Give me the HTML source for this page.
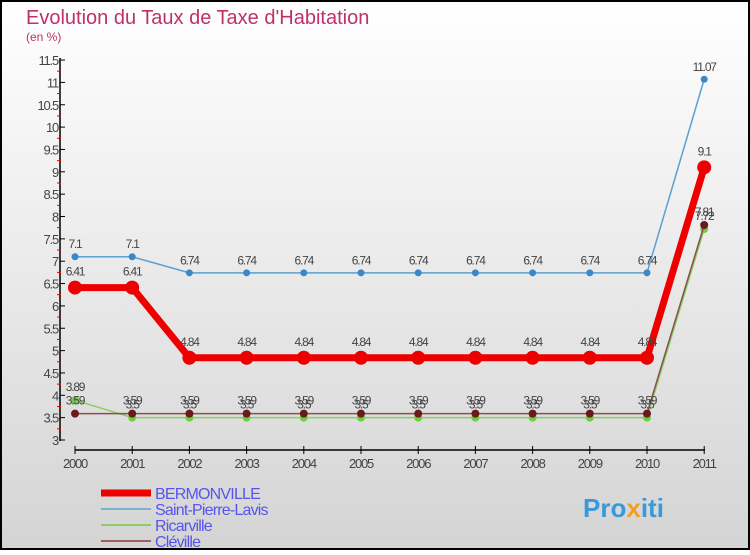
<!DOCTYPE html>
<html><head><meta charset="utf-8"><style>
body{margin:0;width:750px;height:550px;overflow:hidden;font-family:"Liberation Sans",sans-serif}
</style></head><body>
<svg width="750" height="550" xmlns="http://www.w3.org/2000/svg">
<defs><linearGradient id="bg" x1="0" y1="0" x2="0" y2="1"><stop offset="0" stop-color="#ffffff"/><stop offset="1" stop-color="#d4d4d4"/></linearGradient></defs>
<rect x="1" y="1" width="748" height="548" fill="url(#bg)" stroke="#000" stroke-width="2"/>
<text x="26" y="24" font-size="20" fill="#c0306a">Evolution du Taux de Taxe d'Habitation</text>
<text x="26" y="41" font-size="12" fill="#c0306a">(en %)</text>
<g id="axes"></g><g id="series"></g><g id="legend"></g>
<text x="583" y="517" font-size="26" font-weight="bold" fill="#3a9ad9">Pro<tspan fill="#f0a020">x</tspan>iti</text>
</svg>
<script>
const years=["2000","2001","2002","2003","2004","2005","2006","2007","2008","2009","2010","2011"];
const bermonville=[6.41,6.41,4.84,4.84,4.84,4.84,4.84,4.84,4.84,4.84,4.84,9.1];
const saintPierre=[7.1,7.1,6.74,6.74,6.74,6.74,6.74,6.74,6.74,6.74,6.74,11.07];
const ricarville=[3.89,3.5,3.5,3.5,3.5,3.5,3.5,3.5,3.5,3.5,3.5,7.72];
const cleville=[3.59,3.59,3.59,3.59,3.59,3.59,3.59,3.59,3.59,3.59,3.59,7.81];
const yTicks=[3,3.5,4,4.5,5,5.5,6,6.5,7,7.5,8,8.5,9,9.5,10,10.5,11,11.5];
const NS="http://www.w3.org/2000/svg";
const X=i=>75+i*57.2, Y=v=>440-(v-3)*44.7;
function mk(t,a,p){const e=document.createElementNS(NS,t);for(const k in a)e.setAttribute(k,a[k]);p.appendChild(e);return e;}
const ax=document.getElementById('axes');
let l=mk('line',{x1:60,y1:58,x2:60,y2:441,stroke:'#000','stroke-width':1.5},ax);


yTicks.forEach(v=>{
 mk('line',{x1:60,y1:Y(v),x2:65,y2:Y(v),stroke:'#000'},ax);
 if(v<11.5)mk('line',{x1:57,y1:Y(v+0.25),x2:61,y2:Y(v+0.25),stroke:'#e00'},ax);
 const t=mk('text',{x:58,y:Y(v)+5,'font-size':13,fill:'#444','text-anchor':'end','letter-spacing':'-1.2'},ax);
 
 
 t.textContent=String(v);
});
l=mk('line',{x1:75,y1:450,x2:705,y2:450,stroke:'#000','stroke-width':1.5},ax);


years.forEach((y,i)=>{
 mk('line',{x1:X(i),y1:446,x2:X(i),y2:454,stroke:'#000'},ax);
 const t=mk('text',{x:X(i),y:468,'font-size':13,fill:'#444','text-anchor':'middle','letter-spacing':'-1.2'},ax);
 
 
 t.textContent=y;
});
const sg=document.getElementById('series');
function draw(vals,color,w,r,name,dot){
 const g=mk('g',{},sg);
 
 
 const p=mk('polyline',{points:vals.map((v,i)=>X(i)+','+Y(v)).join(' '),fill:'none',stroke:color,'stroke-width':w},g);
 
 
 vals.forEach((v,i)=>{
  const c=mk('circle',{cx:X(i),cy:Y(v),r:r,fill:dot},g);
  
  
  const t=mk('text',{x:X(i),y:Y(v)-r-5,'font-size':12,fill:'#444','text-anchor':'middle','letter-spacing':'-1.2'},g);
  
  
  t.textContent=String(v);
 });
}
draw(saintPierre,'#5aa0d0',1.5,3.5,'saint-pierre-lavis','#3a88c8');
draw(ricarville,'#8ad060',1.5,4,'ricarville','#70cc40');
draw(cleville,'#8a5050',1.5,4,'cleville','#6a1a1a');
draw(bermonville,'#ee0000',7,7,'bermonville','#ee0000');
const lg=document.getElementById('legend');
const leg=[['BERMONVILLE','#ee0000',7],['Saint-Pierre-Lavis','#7ab0d0',2],['Ricarville','#8ad060',2],['Cléville','#a06060',2]];
leg.forEach((e,i)=>{
 const y=493+i*16;
 const ln=mk('line',{x1:101,y1:y,x2:151,y2:y,stroke:e[1],'stroke-width':e[2]},lg);
 
 
 const t=mk('text',{x:155,y:y+6,'font-size':16,fill:'#5555ee','letter-spacing':'-0.8'},lg);
 
 
 t.textContent=e[0];
});
</script>
</body></html>
